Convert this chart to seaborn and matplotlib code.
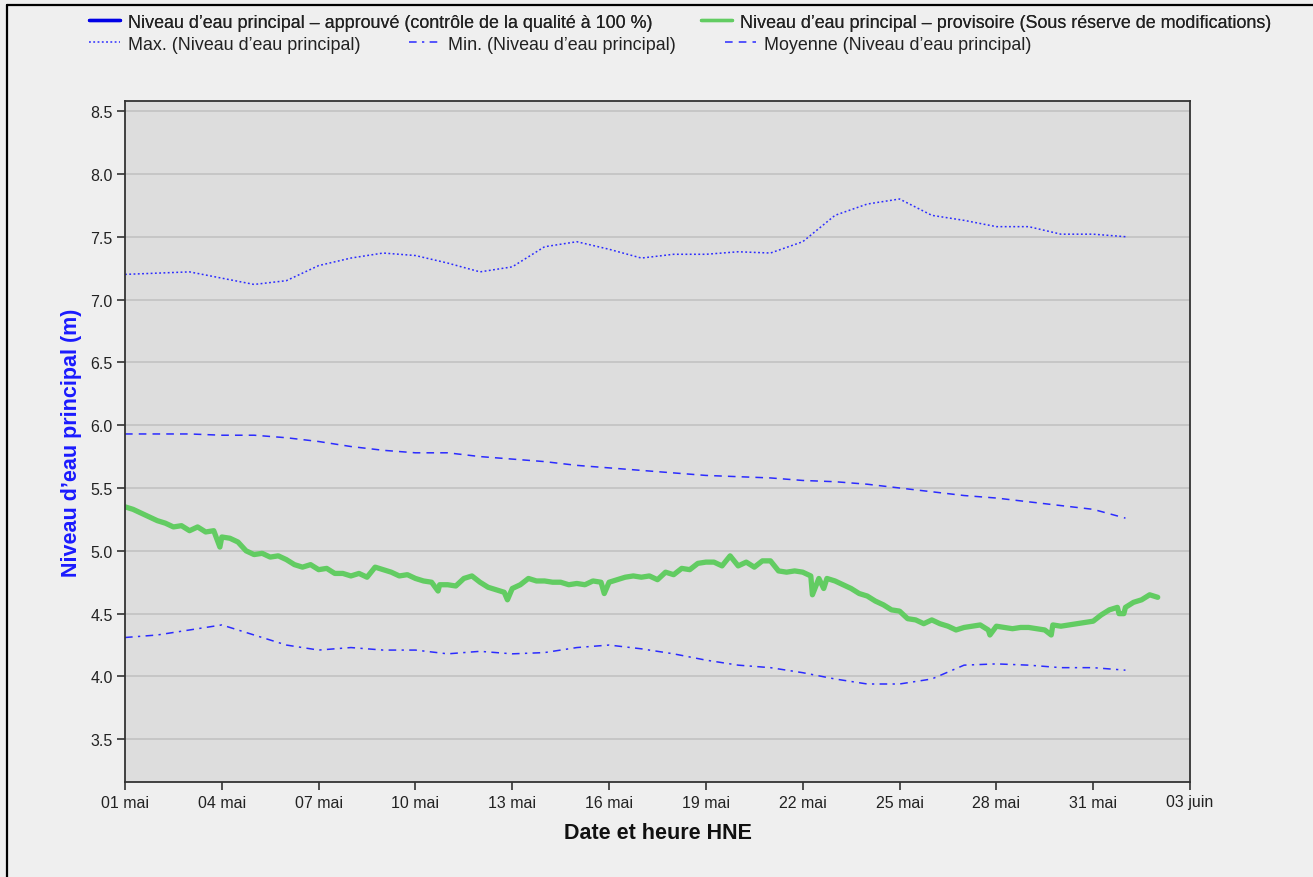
import numpy as np
import pandas as pd
import matplotlib
matplotlib.use("Agg")
import matplotlib.pyplot as plt
import seaborn as sns
from matplotlib.lines import Line2D

# --- data -------------------------------------------------------------
start = pd.Timestamp("2023-05-01")

# daily statistics (1 mai .. 1 juin)
max_level = [7.20, 7.21, 7.22, 7.17, 7.12, 7.15, 7.27, 7.33, 7.37, 7.35,
             7.29, 7.22, 7.26, 7.42, 7.46, 7.40, 7.33, 7.36, 7.36, 7.38,
             7.37, 7.46, 7.67, 7.76, 7.80, 7.67, 7.63, 7.58, 7.58, 7.52,
             7.52, 7.50]
min_level = [4.31, 4.33, 4.37, 4.41, 4.33, 4.25, 4.21, 4.23, 4.21, 4.21,
             4.18, 4.20, 4.18, 4.19, 4.23, 4.25, 4.22, 4.18, 4.13, 4.09,
             4.07, 4.03, 3.98, 3.94, 3.94, 3.98, 4.09, 4.10, 4.09, 4.07,
             4.07, 4.05]
mean_level = [5.93, 5.93, 5.93, 5.92, 5.92, 5.90, 5.87, 5.83, 5.80, 5.78,
              5.78, 5.75, 5.73, 5.71, 5.68, 5.66, 5.64, 5.62, 5.60, 5.59,
              5.58, 5.56, 5.55, 5.53, 5.50, 5.47, 5.44, 5.42, 5.39, 5.36,
              5.33, 5.26]

# provisional water level, every 6 hours from 1 mai 00:00
provisional = [
    5.35, 5.33, 5.30, 5.27, 5.24, 5.22, 5.19, 5.20, 5.16, 5.19, 5.15, 5.16,
    5.11, 5.10, 5.07, 5.00, 4.97, 4.98, 4.95, 4.96, 4.93, 4.89, 4.87, 4.89,
    4.85, 4.86, 4.82, 4.82, 4.80, 4.82, 4.79, 4.87, 4.85, 4.83, 4.80, 4.81,
    4.78, 4.76, 4.75, 4.73, 4.73, 4.72, 4.78, 4.80, 4.75, 4.71, 4.69, 4.67,
    4.70, 4.73, 4.78, 4.76, 4.76, 4.75, 4.75, 4.73, 4.74, 4.73, 4.76, 4.75,
    4.75, 4.77, 4.79, 4.80, 4.79, 4.80, 4.77, 4.83, 4.81, 4.86, 4.85, 4.90,
    4.91, 4.91, 4.88, 4.96, 4.88, 4.91, 4.87, 4.92, 4.92, 4.84, 4.83, 4.84,
    4.83, 4.80, 4.78, 4.78, 4.76, 4.73, 4.70, 4.66, 4.64, 4.60, 4.57, 4.53,
    4.52, 4.46, 4.45, 4.42, 4.45, 4.42, 4.40, 4.37, 4.39, 4.40, 4.41, 4.37,
    4.40, 4.39, 4.38, 4.39, 4.39, 4.38, 4.37, 4.41, 4.40, 4.41, 4.42, 4.43,
    4.44, 4.49, 4.53, 4.55, 4.55, 4.59, 4.61, 4.65, 4.63,
]
# short drops in the provisional record (day offset, level)
drop_days = [2.94, 9.70, 11.85, 14.85, 21.30, 21.65, 26.80, 28.70, 30.80, 30.95]
drop_levels = [5.03, 4.68, 4.61, 4.66, 4.65, 4.70, 4.33, 4.33, 4.50, 4.50]

approved = []  # no approved data for this period

tick_labels = ["01 mai", "04 mai", "07 mai", "10 mai", "13 mai", "16 mai",
               "19 mai", "22 mai", "25 mai", "28 mai", "31 mai", "03 juin"]

# --- frames -----------------------------------------------------------
daily = pd.DataFrame({
    "date": start + pd.to_timedelta(np.arange(len(max_level)), unit="D"),
    "max": max_level, "min": min_level, "mean": mean_level,
})
prov_days = np.arange(len(provisional)) * 0.25
prov = pd.DataFrame({
    "date": start + pd.to_timedelta(np.concatenate([prov_days, drop_days]), unit="D"),
    "level": np.concatenate([provisional, drop_levels]),
}).sort_values("date")

# --- style ------------------------------------------------------------
sns.set_style("ticks")
plt.rcParams["font.family"] = ["Liberation Sans", "DejaVu Sans"]

W, H = 1313, 878
fig = plt.figure(figsize=(W / 100, H / 100), dpi=100, facecolor="#efefef")
ax = fig.add_axes([125 / W, 1 - 783 / H, (1190 - 125) / W, (783 - 102) / H])
ax.set_facecolor("#dddddd")

blue = "#2b2bff"
green = "#62cc62"

ax.plot(approved, approved, color="#0000e6", lw=2.2,
        label="Niveau d’eau principal – approuvé (contrôle de la qualité à 100 %)")
sns.lineplot(data=prov, x="date", y="level", ax=ax, color=green, lw=3.8,
             estimator=None, sort=True,
             label="Niveau d’eau principal – provisoire (Sous réserve de modifications)")
sns.lineplot(data=daily, x="date", y="max", ax=ax, color=blue, lw=1.1,
             label="Max. (Niveau d’eau principal)")
sns.lineplot(data=daily, x="date", y="min", ax=ax, color=blue, lw=1.1,
             label="Min. (Niveau d’eau principal)")
sns.lineplot(data=daily, x="date", y="mean", ax=ax, color=blue, lw=1.1,
             label="Moyenne (Niveau d’eau principal)")
lines = ax.get_lines()
lines[2].set_linestyle((0, (1.2, 1.6)))
lines[3].set_linestyle((0, (5, 3.5, 1.5, 3.5)))
lines[4].set_linestyle((0, (5, 4)))

# axes ranges & ticks
yt = np.arange(3.5, 8.51, 0.5)
ax.set_ylim(3.16, 8.58)
ax.set_yticks(yt)
ax.set_yticklabels([f"{v:.1f}" for v in yt])
tick_dates = start + pd.to_timedelta(np.arange(len(tick_labels)) * 3, unit="D")
ax.set_xlim(tick_dates[0], tick_dates[-1])
ax.set_xticks(tick_dates)
ax.set_xticklabels(tick_labels)
ax.tick_params(axis="both", direction="out", length=6, width=1.2, color="#333333",
               labelsize=11.5, labelcolor="#222222", pad=3)

ax.grid(axis="y", color="#c2c2c2", lw=1.2)
ax.grid(axis="x", visible=False)
for s in ax.spines.values():
    s.set_visible(True)
    s.set_color("#333333")
    s.set_linewidth(1.3)

ax.set_xlabel("Date et heure HNE", fontsize=15.5, fontweight="bold",
              color="#111111", labelpad=9)
ax.set_ylabel("Niveau d’eau principal (m)", fontsize=15.5, fontweight="bold",
              color="#1a1aff", labelpad=6)

# legend: two rows above the plot
ax.get_legend().remove()
h = ax.get_lines()
common = dict(loc="center left", frameon=False, fontsize=12.85, handlelength=1.72,
              handletextpad=0.45, columnspacing=2.75, borderpad=0, borderaxespad=0)
leg1 = fig.legend(handles=h[:2], bbox_to_anchor=(89 / W, 1 - 23 / H), ncol=2, **common)
leg2 = fig.legend(handles=h[2:], bbox_to_anchor=(89 / W, 1 - 45 / H), ncol=3, **common)
for lg in (leg1, leg2):
    for t in lg.get_texts():
        t.set_color("#222222")
for lh in leg1.legend_handles:
    lh.set_linewidth(2.4)
fig.add_artist(leg1)

# outer frame (left and top edges)
fig.add_artist(Line2D([7 / W, 7 / W], [0, 1 - 6 / H], transform=fig.transFigure,
                      color="black", lw=1.6))
fig.add_artist(Line2D([7 / W, 1], [1 - 6 / H, 1 - 6 / H], transform=fig.transFigure,
                      color="black", lw=1.6))

fig.savefig("out.png", dpi=100, facecolor=fig.get_facecolor())
